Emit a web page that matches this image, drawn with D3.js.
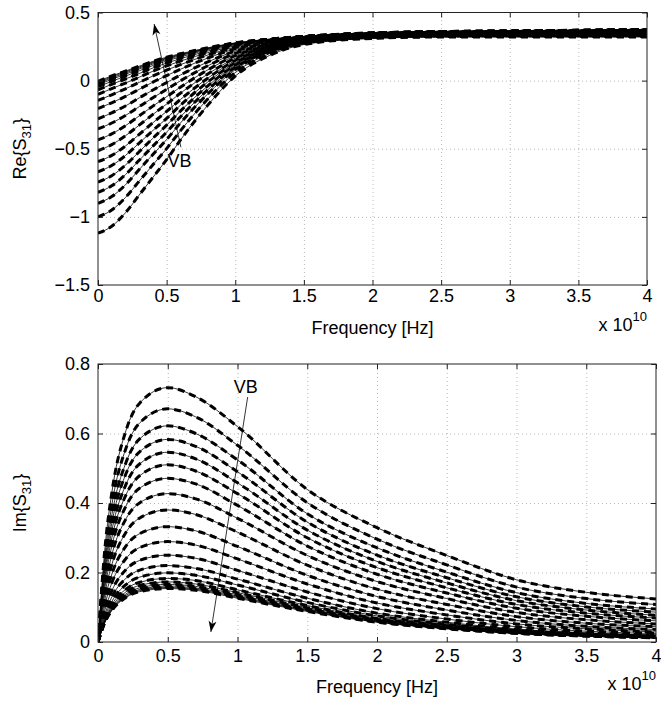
<!DOCTYPE html>
<html>
<head>
<meta charset="utf-8">
<script src="https://cdn.jsdelivr.net/npm/d3@7"></script>
<style>
  body { margin: 0; background: #fff; }
  text { font-family: "Liberation Sans", Arial, Helvetica, sans-serif; fill: #000; }
</style>
</head>
<body>
<div id="fig"></div>
<script>
// frequency axis in units of 1e10 Hz
const xTicks = [0, 0.5, 1, 1.5, 2, 2.5, 3, 3.5, 4];
const reTicks = [-1.5, -1, -0.5, 0, 0.5];
const imTicks = [0, 0.2, 0.4, 0.6, 0.8];

// one row per bias step VB, low VB first
const freqRe = [0, 0.1, 0.2, 0.3, 0.4, 0.5, 0.6, 0.8, 1.0, 1.25, 1.5, 2.0, 2.5, 3.0, 3.5, 4.0];
const reS31 = [
  [-1.120, -1.069, -0.970, -0.840, -0.710, -0.580, -0.437, -0.180, 0.033, 0.185, 0.265, 0.310, 0.320, 0.320, 0.320, 0.320],
  [-1.000, -0.950, -0.858, -0.738, -0.618, -0.499, -0.369, -0.135, 0.059, 0.198, 0.271, 0.314, 0.324, 0.325, 0.325, 0.326],
  [-0.900, -0.851, -0.765, -0.653, -0.542, -0.432, -0.312, -0.097, 0.081, 0.209, 0.276, 0.318, 0.328, 0.329, 0.329, 0.331],
  [-0.820, -0.772, -0.690, -0.585, -0.481, -0.378, -0.267, -0.067, 0.098, 0.217, 0.281, 0.320, 0.330, 0.332, 0.333, 0.335],
  [-0.745, -0.698, -0.620, -0.522, -0.423, -0.327, -0.224, -0.039, 0.115, 0.225, 0.285, 0.323, 0.333, 0.335, 0.336, 0.338],
  [-0.670, -0.623, -0.550, -0.458, -0.366, -0.277, -0.181, -0.010, 0.131, 0.233, 0.289, 0.326, 0.336, 0.338, 0.340, 0.342],
  [-0.595, -0.549, -0.480, -0.395, -0.309, -0.226, -0.139, 0.018, 0.148, 0.241, 0.293, 0.329, 0.339, 0.341, 0.343, 0.346],
  [-0.515, -0.470, -0.405, -0.327, -0.248, -0.172, -0.093, 0.048, 0.165, 0.250, 0.297, 0.331, 0.341, 0.344, 0.347, 0.350],
  [-0.435, -0.391, -0.331, -0.259, -0.187, -0.118, -0.048, 0.079, 0.183, 0.258, 0.302, 0.334, 0.344, 0.348, 0.350, 0.354],
  [-0.355, -0.311, -0.256, -0.191, -0.126, -0.064, -0.002, 0.109, 0.200, 0.267, 0.306, 0.337, 0.347, 0.351, 0.354, 0.358],
  [-0.280, -0.237, -0.186, -0.127, -0.069, -0.014, 0.041, 0.137, 0.217, 0.275, 0.310, 0.340, 0.350, 0.354, 0.357, 0.361],
  [-0.205, -0.163, -0.116, -0.064, -0.011, 0.037, 0.083, 0.166, 0.233, 0.283, 0.314, 0.343, 0.353, 0.357, 0.361, 0.365],
  [-0.145, -0.104, -0.060, -0.013, 0.034, 0.077, 0.117, 0.188, 0.246, 0.289, 0.317, 0.345, 0.355, 0.359, 0.363, 0.368],
  [-0.100, -0.059, -0.018, 0.025, 0.069, 0.108, 0.143, 0.205, 0.256, 0.294, 0.320, 0.346, 0.356, 0.361, 0.366, 0.370],
  [-0.068, -0.027, 0.012, 0.052, 0.093, 0.129, 0.161, 0.217, 0.263, 0.298, 0.321, 0.348, 0.358, 0.362, 0.367, 0.372],
  [-0.045, -0.005, 0.033, 0.072, 0.111, 0.145, 0.174, 0.226, 0.268, 0.300, 0.323, 0.348, 0.358, 0.363, 0.368, 0.373],
  [-0.030, 0.010, 0.047, 0.085, 0.122, 0.155, 0.183, 0.232, 0.271, 0.302, 0.323, 0.349, 0.359, 0.364, 0.369, 0.374],
  [-0.020, 0.020, 0.056, 0.093, 0.130, 0.162, 0.189, 0.235, 0.274, 0.303, 0.324, 0.349, 0.359, 0.364, 0.369, 0.374],
  [-0.012, 0.028, 0.064, 0.100, 0.136, 0.167, 0.193, 0.238, 0.275, 0.304, 0.324, 0.350, 0.360, 0.365, 0.369, 0.374],
  [-0.005, 0.035, 0.070, 0.106, 0.141, 0.172, 0.197, 0.241, 0.277, 0.304, 0.325, 0.350, 0.360, 0.365, 0.370, 0.375]
];

const freqIm = [0, 0.05, 0.1, 0.2, 0.3, 0.5, 0.7, 1.0, 1.5, 2.0, 2.5, 3.0, 3.5, 4.0];
const imS31 = [
  [0, 0.271, 0.432, 0.608, 0.688, 0.732, 0.706, 0.620, 0.439, 0.329, 0.249, 0.179, 0.143, 0.124],
  [0, 0.248, 0.396, 0.557, 0.631, 0.671, 0.648, 0.566, 0.401, 0.296, 0.222, 0.158, 0.125, 0.108],
  [0, 0.230, 0.367, 0.516, 0.585, 0.622, 0.600, 0.524, 0.369, 0.271, 0.201, 0.142, 0.111, 0.095],
  [0, 0.216, 0.344, 0.484, 0.548, 0.583, 0.563, 0.490, 0.345, 0.250, 0.185, 0.130, 0.101, 0.086],
  [0, 0.202, 0.322, 0.453, 0.513, 0.546, 0.527, 0.458, 0.322, 0.232, 0.170, 0.119, 0.092, 0.077],
  [0, 0.189, 0.301, 0.423, 0.479, 0.510, 0.492, 0.427, 0.300, 0.214, 0.156, 0.108, 0.083, 0.069],
  [0, 0.174, 0.278, 0.391, 0.443, 0.471, 0.455, 0.393, 0.276, 0.195, 0.141, 0.097, 0.074, 0.061],
  [0, 0.158, 0.252, 0.354, 0.401, 0.427, 0.412, 0.356, 0.249, 0.174, 0.125, 0.085, 0.064, 0.052],
  [0, 0.141, 0.224, 0.315, 0.357, 0.380, 0.367, 0.316, 0.221, 0.152, 0.108, 0.073, 0.054, 0.044],
  [0, 0.123, 0.196, 0.276, 0.312, 0.332, 0.320, 0.275, 0.192, 0.131, 0.092, 0.062, 0.045, 0.036],
  [0, 0.107, 0.171, 0.240, 0.272, 0.289, 0.279, 0.239, 0.167, 0.112, 0.078, 0.052, 0.038, 0.029],
  [0, 0.093, 0.148, 0.208, 0.235, 0.250, 0.241, 0.206, 0.144, 0.096, 0.066, 0.044, 0.031, 0.024],
  [0, 0.081, 0.130, 0.183, 0.207, 0.220, 0.212, 0.181, 0.126, 0.083, 0.057, 0.037, 0.026, 0.020],
  [0, 0.074, 0.117, 0.165, 0.187, 0.199, 0.192, 0.164, 0.114, 0.075, 0.051, 0.033, 0.023, 0.017],
  [0, 0.068, 0.108, 0.152, 0.172, 0.183, 0.177, 0.150, 0.105, 0.068, 0.047, 0.030, 0.021, 0.016],
  [0, 0.064, 0.102, 0.144, 0.163, 0.173, 0.167, 0.142, 0.099, 0.065, 0.044, 0.028, 0.020, 0.014],
  [0, 0.061, 0.098, 0.138, 0.156, 0.166, 0.160, 0.136, 0.095, 0.062, 0.042, 0.027, 0.019, 0.014],
  [0, 0.060, 0.095, 0.134, 0.151, 0.161, 0.155, 0.132, 0.092, 0.060, 0.040, 0.026, 0.018, 0.013],
  [0, 0.058, 0.093, 0.130, 0.148, 0.157, 0.152, 0.129, 0.090, 0.058, 0.039, 0.025, 0.017, 0.013],
  [0, 0.057, 0.091, 0.128, 0.145, 0.154, 0.149, 0.126, 0.088, 0.057, 0.038, 0.025, 0.017, 0.012]
];

// VB annotation arrows, [from, to] in data units
const reArrow = [[0.604, -0.489], [0.409, 0.415]];
const reLabel = [0.507, -0.635];
const imArrow = [[1.073, 0.705], [0.809, 0.029]];
const imLabel = [0.973, 0.717];

const svg = d3.select("#fig")
  .append("svg")
  .attr("width", 661)
  .attr("height", 704);

svg.append("defs").append("marker")
  .attr("id", "head")
  .attr("markerUnits", "userSpaceOnUse")
  .attr("viewBox", "-11 -5 12 10")
  .attr("markerWidth", 12)
  .attr("markerHeight", 10)
  .attr("orient", "auto")
  .append("path")
  .attr("d", "M0,0 L-11,-4 L-8,0 L-11,4 Z")
  .attr("fill", "#000");

function drawPanel(p) {
  const x = d3.scaleLinear().domain([0, 4]).range([p.left, p.right]);
  const y = d3.scaleLinear().domain(p.yDomain).range([p.bottom, p.top]);
  const w = p.right - p.left;
  const h = p.bottom - p.top;
  const g = svg.append("g");

  // dotted grid
  g.append("g")
    .attr("transform", `translate(0,${p.bottom})`)
    .call(d3.axisBottom(x).tickValues(xTicks.slice(1, -1)).tickSize(-h).tickFormat(""))
    .call(s => s.select(".domain").remove())
    .selectAll("line").attr("stroke", "#b8b8b8").attr("stroke-dasharray", "1,3");
  g.append("g")
    .attr("transform", `translate(${p.left},0)`)
    .call(d3.axisLeft(y).tickValues(p.yTicks.slice(1, -1)).tickSize(-w).tickFormat(""))
    .call(s => s.select(".domain").remove())
    .selectAll("line").attr("stroke", "#b8b8b8").attr("stroke-dasharray", "1,3");

  const clipId = "clip" + p.id;
  svg.append("clipPath").attr("id", clipId)
    .append("rect").attr("x", p.left).attr("y", p.top).attr("width", w).attr("height", h);

  const line = d3.line()
    .x((d, i) => x(p.freq[i]))
    .y(d => y(d))
    .curve(d3.curveMonotoneX);

  const curves = g.append("g").attr("clip-path", `url(#${clipId})`);
  curves.selectAll(".thin").data(p.series).join("path")
    .attr("class", "thin")
    .attr("d", line)
    .attr("fill", "none")
    .attr("stroke", "#000")
    .attr("stroke-width", 0.8);
  curves.selectAll(".dash").data(p.series).join("path")
    .attr("class", "dash")
    .attr("d", line)
    .attr("fill", "none")
    .attr("stroke", "#000")
    .attr("stroke-width", 3)
    .attr("stroke-dasharray", "7,5");

  // axes, ticks pointing inward like matlab
  const fmt = d3.format("");
  const styleTicks = s => {
    s.select(".domain").remove();
    s.selectAll("line").attr("stroke", "#222");
    s.selectAll("text").style("font-size", "18px").attr("fill", "#000");
  };
  g.append("g")
    .attr("transform", `translate(0,${p.bottom})`)
    .call(d3.axisBottom(x).tickValues(xTicks).tickSizeInner(-5).tickSizeOuter(0).tickPadding(p.xPad).tickFormat(fmt))
    .call(styleTicks);
  g.append("g")
    .attr("transform", `translate(0,${p.top})`)
    .call(d3.axisTop(x).tickValues(xTicks).tickSizeInner(-5).tickSizeOuter(0).tickFormat(""))
    .call(styleTicks);
  g.append("g")
    .attr("transform", `translate(${p.left},0)`)
    .call(d3.axisLeft(y).tickValues(p.yTicks).tickSizeInner(-5).tickSizeOuter(0).tickPadding(8).tickFormat(d3.format("")))
    .call(styleTicks);
  g.append("g")
    .attr("transform", `translate(${p.right},0)`)
    .call(d3.axisRight(y).tickValues(p.yTicks).tickSizeInner(-5).tickSizeOuter(0).tickFormat(""))
    .call(styleTicks);

  g.append("rect")
    .attr("x", p.left).attr("y", p.top)
    .attr("width", w).attr("height", h)
    .attr("fill", "none")
    .attr("stroke", "#222")
    .attr("stroke-width", 1);

  // labels
  g.append("text")
    .attr("x", (p.left + p.right) / 2)
    .attr("y", p.xLabelY)
    .attr("text-anchor", "middle")
    .style("font-size", "18px")
    .text("Frequency [Hz]");

  const exp = g.append("text")
    .attr("x", p.right)
    .attr("y", p.expY)
    .attr("text-anchor", "end")
    .style("font-size", "18px");
  exp.append("tspan").text("x 10");
  exp.append("tspan").attr("dy", -10).style("font-size", "13px").text("10");

  const yl = g.append("text")
    .attr("transform", `translate(26,${(p.top + p.bottom) / 2}) rotate(-90)`)
    .attr("text-anchor", "middle")
    .style("font-size", "18px");
  yl.append("tspan").text(p.yName + "{S");
  yl.append("tspan").attr("dy", 5).style("font-size", "13px").text("31");
  yl.append("tspan").attr("dy", -5).text("}");

  // VB arrow
  g.append("line")
    .attr("x1", x(p.arrow[0][0])).attr("y1", y(p.arrow[0][1]))
    .attr("x2", x(p.arrow[1][0])).attr("y2", y(p.arrow[1][1]))
    .attr("stroke", "#000")
    .attr("stroke-width", 0.8)
    .attr("marker-end", "url(#head)");
  g.append("text")
    .attr("x", x(p.label[0]))
    .attr("y", y(p.label[1]))
    .style("font-size", "18px")
    .text("VB");
}

drawPanel({
  id: "re", left: 98, right: 647, top: 12.5, bottom: 285,
  yDomain: [-1.5, 0.5], yTicks: reTicks, yName: "Re",
  freq: freqRe, series: reS31, xPad: 4,
  xLabelY: 334, expY: 331,
  arrow: reArrow, label: reLabel
});

drawPanel({
  id: "im", left: 98, right: 656, top: 364, bottom: 642,
  yDomain: [0, 0.8], yTicks: imTicks, yName: "Im",
  freq: freqIm, series: imS31, xPad: 7,
  xLabelY: 693, expY: 690,
  arrow: imArrow, label: imLabel
});
</script>
</body>
</html>
